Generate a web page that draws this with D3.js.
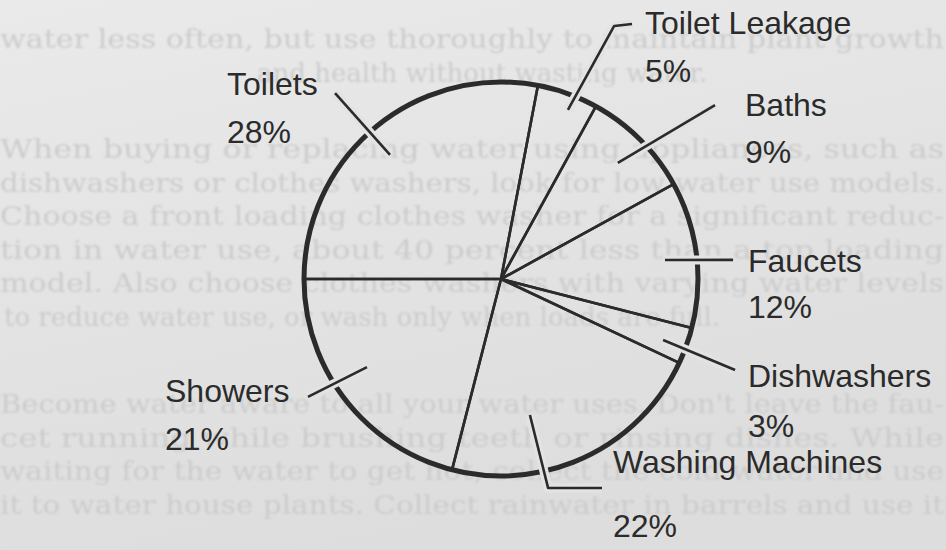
<!DOCTYPE html>
<html>
<head>
<meta charset="utf-8">
<script src="https://cdn.jsdelivr.net/npm/d3@7"></script>
<style>
  body { margin: 0; background: #e3e3e3; }
  svg { display: block; }
</style>
</head>
<body>
<script>
const width = 946;
const height = 550;

// slices go clockwise, first one starts at 9 o'clock
const categories = ["Toilets", "Toilet Leakage", "Baths", "Faucets", "Dishwashers", "Washing Machines", "Showers"];
const shares = [28, 5, 9, 12, 3, 22, 21];

// the faded book page that shows behind the chart
const paraTop = [
    "water less often, but use thoroughly to maintain plant growth",
    "and health without wasting water."
];
const paraMid = [
    "When buying or replacing water using appliances, such as",
    "dishwashers or clothes washers, look for low water use models.",
    "Choose a front loading clothes washer for a significant reduc-",
    "tion in water use, about 40 percent less than a top loading",
    "model. Also choose clothes washers with varying water levels",
    "to reduce water use, or wash only when loads are full."
];
const paraBottom = [
    "Become water aware to all your water uses. Don't leave the fau-",
    "cet running while brushing teeth or rinsing dishes. While",
    "waiting for the water to get hot, collect the cold water and use",
    "it to water house plants. Collect rainwater in barrels and use it"
];

// where each paragraph sits: first baseline and x of its last line
const pageLayout = [
    {lines: paraTop, y0: 48, lastX: 257},
    {lines: paraMid, y0: 158, lastX: 4},
    {lines: paraBottom, y0: 413, lastX: 0, justifyLast: true}
];
const lineGap = 33.5;

// label spots: x, baseline of the name, gap down to the % line
const labelPlace = {
    "Toilets":          [227, 95, 48],
    "Toilet Leakage":   [645, 34, 48],
    "Baths":            [745, 116, 47],
    "Faucets":          [748, 272, 46],
    "Dishwashers":      [748, 387, 50],
    "Washing Machines": [613, 473, 64],
    "Showers":          [165, 402, 48]
};

// leader lines, points as [degrees off the slice middle, radius factor]
const leaderPts = {
    "Toilets":          [[-2.2, 0.845], [-2.15, 1.265]],
    "Toilet Leakage":   [[1.8, 0.923], [4.3, 1.407], [7.4, 1.455]],
    "Baths":            [[0.2, 0.836], [5.9, 1.40]],
    "Faucets":          [[0.6, 0.838], [2.5, 1.182]],
    "Dishwashers":      [[0.8, 0.879], [1.45, 1.275]],
    "Washing Machines": [[13.2, 0.706], [12.5, 1.087], [-0.6, 1.178]],
    "Showers":          [[4.5, 0.814], [6.4, 1.148]]
};

const ink = "#2b2b2b";
const paper = "#e3e3e3";

const cx = 501, cy = 279, radius = 197;

const svg = d3.select("body").append("svg")
    .attr("width", width)
    .attr("height", height)
    .attr("viewBox", [0, 0, width, height]);

const defs = svg.append("defs");
const grad = defs.append("linearGradient").attr("id", "paperGrad")
    .attr("x1", 0).attr("y1", 0).attr("x2", 0.35).attr("y2", 1);
grad.append("stop").attr("offset", "0%").attr("stop-color", "#eaeaea");
grad.append("stop").attr("offset", "100%").attr("stop-color", "#dddddd");

defs.append("filter").attr("id", "soft")
    .append("feGaussianBlur").attr("stdDeviation", 0.8);

svg.append("rect")
    .attr("width", width).attr("height", height)
    .attr("fill", "url(#paperGrad)");

// faded page text, very light so it reads as show-through
const page = svg.append("g")
    .attr("font-family", "'DejaVu Serif', 'Liberation Serif', serif")
    .attr("font-size", 26)
    .attr("fill", "#cccccc")
    .attr("filter", "url(#soft)");

pageLayout.forEach(block => {
    block.lines.forEach((txt, i) => {
        const last = i === block.lines.length - 1;
        const t = page.append("text")
            .attr("x", last ? block.lastX : 0)
            .attr("y", block.y0 + i * lineGap)
            .text(txt);
        if (!last || block.justifyLast) {
            t.attr("textLength", 944).attr("lengthAdjust", "spacingAndGlyphs");
        }
    });
});

// the pie itself
const data = categories.map((c, i) => ({name: c, share: shares[i]}));

const pie = d3.pie()
    .sort(null)
    .value(d => d.share)
    .startAngle(-Math.PI / 2)
    .endAngle(Math.PI * 1.5);

const arcs = pie(data);

const arc = d3.arc().innerRadius(0).outerRadius(radius);

const chart = svg.append("g").attr("transform", `translate(${cx},${cy})`);

chart.selectAll(".slice")
    .data(arcs)
    .enter().append("path").classed("slice", true)
    .attr("d", arc)
    .attr("fill", "none")
    .attr("stroke", ink)
    .attr("stroke-width", 2.6)
    .attr("stroke-linejoin", "round");

// thick rim
chart.append("circle")
    .attr("r", radius)
    .attr("fill", "none")
    .attr("stroke", ink)
    .attr("stroke-width", 5);

// polar -> xy inside the chart group
function polar(a, k) {
    return [k * radius * Math.sin(a), -k * radius * Math.cos(a)];
}

const line = d3.line();

function leaderPath(d) {
    const mid = (d.startAngle + d.endAngle) / 2;
    const pts = leaderPts[d.data.name].map(p => polar(mid + p[0] * Math.PI / 180, p[1]));
    return line(pts);
}

// knock the rim out where a leader crosses it
chart.selectAll(".halo")
    .data(arcs)
    .enter().append("path").classed("halo", true)
    .attr("d", leaderPath)
    .attr("fill", "none")
    .attr("stroke", paper)
    .attr("stroke-width", 9);

chart.selectAll(".leader")
    .data(arcs)
    .enter().append("path").classed("leader", true)
    .attr("d", leaderPath)
    .attr("fill", "none")
    .attr("stroke", ink)
    .attr("stroke-width", 2.6)
    .attr("stroke-linejoin", "round");

// labels
const labels = svg.append("g")
    .attr("font-family", "'Liberation Sans', Arial, sans-serif")
    .attr("font-size", 32)
    .attr("fill", ink);

arcs.forEach(d => {
    const p = labelPlace[d.data.name];
    const t = labels.append("text").attr("x", p[0]).attr("y", p[1]);
    t.append("tspan").attr("x", p[0]).text(d.data.name);
    t.append("tspan").attr("x", p[0]).attr("dy", p[2]).text(d.data.share + "%");
});
</script>
</body>
</html>
